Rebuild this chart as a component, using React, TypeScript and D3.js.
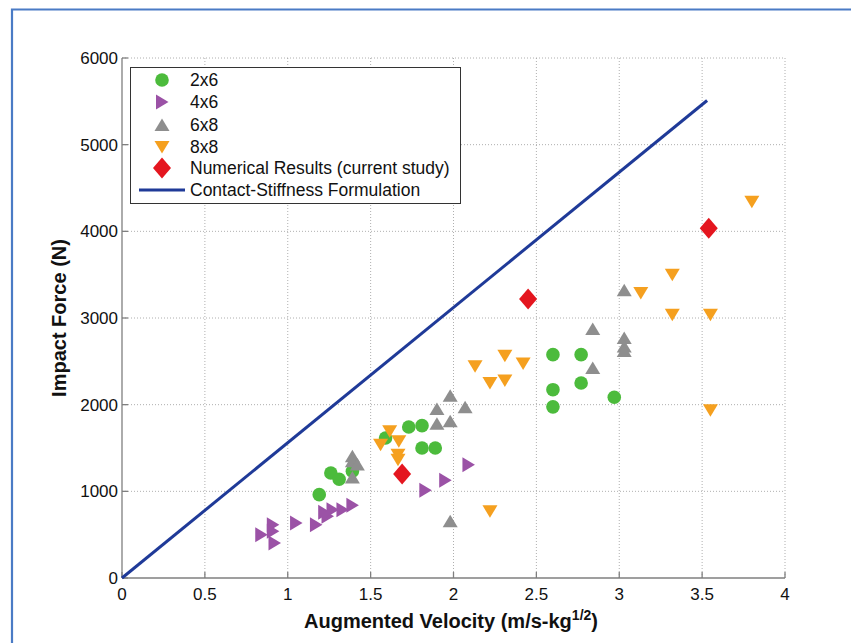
import React from 'react';
import * as d3 from 'd3';

// values: [augmented velocity, impact force]
const series2x6: [number, number][] = [
  [1.19, 962], [1.26, 1212], [1.31, 1140], [1.39, 1231], [1.59, 1615],
  [1.73, 1742], [1.81, 1758], [1.81, 1500], [1.89, 1500], [2.6, 2577],
  [2.77, 2577], [2.6, 2173], [2.77, 2250], [2.6, 1975], [2.97, 2085],
];
const series4x6: [number, number][] = [
  [0.84, 500], [0.91, 615], [0.91, 538], [0.92, 404], [1.05, 635],
  [1.17, 615], [1.22, 758], [1.24, 712], [1.27, 788], [1.33, 788],
  [1.39, 840], [1.83, 1012], [1.95, 1127], [2.09, 1308],
];
const series6x8: [number, number][] = [
  [1.39, 1404], [1.39, 1346], [1.42, 1310], [1.39, 1160], [1.9, 1781],
  [1.98, 1808], [1.9, 1950], [1.98, 2104], [2.07, 1969], [1.98, 654],
  [2.84, 2873], [2.84, 2423], [3.03, 3319], [3.03, 2769], [3.03, 2670],
  [3.03, 2620],
];
const series8x8: [number, number][] = [
  [1.56, 1538], [1.615, 1692], [1.67, 1577], [1.665, 1423], [1.665, 1365],
  [2.13, 2442], [2.31, 2565], [2.42, 2475], [2.22, 2250], [2.31, 2280],
  [2.22, 769], [3.13, 3288], [3.32, 3500], [3.32, 3038], [3.55, 3038],
  [3.55, 1935], [3.8, 4340],
];
const numerical: [number, number][] = [[1.69, 1200], [2.45, 3220], [3.54, 4035]];
const contactLine: [number, number][] = [[0, 0], [3.53, 5510]];

const xTicks = [0, 0.5, 1, 1.5, 2, 2.5, 3, 3.5, 4];
const yTicks = [0, 1000, 2000, 3000, 4000, 5000, 6000];
const legendLabels = ['2x6', '4x6', '6x8', '8x8', 'Numerical Results (current study)', 'Contact-Stiffness Formulation'];

const W = 851;
const H = 643;
const FONT = 'Arial, "Liberation Sans", Helvetica, sans-serif';

type Shape = 'circle' | 'right' | 'up' | 'down' | 'diamond';

const markerPath = (shape: Shape): string => {
  switch (shape) {
    case 'right': return 'M-6,-7.5L6.5,0L-6,7.5Z';
    case 'up': return 'M0,-6.5L7.5,6L-7.5,6Z';
    case 'down': return 'M-7.5,-6L7.5,-6L0,6.5Z';
    case 'diamond': return 'M0,-10.5L9,0L0,10.5L-9,0Z';
    default: return d3.symbol(d3.symbolCircle, 145)() || '';
  }
};

const groups: { data: [number, number][]; shape: Shape; color: string }[] = [
  { data: series2x6, shape: 'circle', color: '#4cbb3c' },
  { data: series4x6, shape: 'right', color: '#9b52a6' },
  { data: series6x8, shape: 'up', color: '#8e8e8e' },
  { data: series8x8, shape: 'down', color: '#f5a01f' },
  { data: numerical, shape: 'diamond', color: '#e4161f' },
];

const App = () => {
  const x = d3.scaleLinear().domain([0, 4]).range([122, 785]);
  const y = d3.scaleLinear().domain([0, 6000]).range([578, 58]);
  const line = d3.line<[number, number]>().x(d => x(d[0])).y(d => y(d[1]));

  const legRows = [80, 102, 125, 147, 168, 190];

  return (
    <div style={{ position: 'absolute', left: 0, top: 0 }}>
      <svg width={W} height={H} style={{ display: 'block', background: '#fff' }}>
        {/* figure frame */}
        <path d={`M12,${H + 2}L12,9.5L${W + 2},9.5`} fill="none" stroke="#4a7bc5" strokeWidth={2.2} />

        {/* grid */}
        <g stroke="#9a9a9a" strokeWidth={0.8} strokeDasharray="1,2">
          {xTicks.slice(1).map(t => (
            <line key={'gx' + t} x1={x(t)} x2={x(t)} y1={y(0)} y2={y(6000)} />
          ))}
          {yTicks.slice(1).map(t => (
            <line key={'gy' + t} x1={x(0)} x2={x(4)} y1={y(t)} y2={y(t)} />
          ))}
        </g>

        {/* axes */}
        <g stroke="#7f7f7f" strokeWidth={1.3} fill="none">
          <line x1={x(0)} x2={x(0)} y1={y(0)} y2={y(6000)} />
          <line x1={x(0)} x2={x(4)} y1={y(0)} y2={y(0)} />
          {xTicks.map(t => (
            <line key={'tx' + t} x1={x(t)} x2={x(t)} y1={y(0)} y2={y(0) - 6} />
          ))}
          {yTicks.map(t => (
            <line key={'ty' + t} x1={x(0)} x2={x(0) + 6} y1={y(t)} y2={y(t)} />
          ))}
        </g>
        <g fontFamily={FONT} fontSize={17} fill="#111">
          {xTicks.map(t => (
            <text key={'lx' + t} x={x(t)} y={600} textAnchor="middle">{d3.format('~g')(t)}</text>
          ))}
          {yTicks.map(t => (
            <text key={'ly' + t} x={118} y={y(t) + 6} textAnchor="end">{t}</text>
          ))}
        </g>

        {/* titles */}
        <text x={451} y={628} textAnchor="middle" fontFamily={FONT} fontSize={20} fontWeight="bold" fill="#111">
          Augmented Velocity (m/s-kg<tspan dy={-8} fontSize={14}>1/2</tspan><tspan dy={8}>)</tspan>
        </text>
        <text transform="translate(66,318) rotate(-90)" textAnchor="middle" fontFamily={FONT} fontSize={20} fontWeight="bold" fill="#111">
          Impact Force (N)
        </text>

        {/* contact stiffness line */}
        <path d={line(contactLine) || ''} fill="none" stroke="#1f3a98" strokeWidth={3} />

        {/* markers */}
        {groups.map((g, gi) => (
          <g key={'g' + gi} fill={g.color}>
            {g.data.map((d, i) => (
              <path key={i} d={markerPath(g.shape)} transform={`translate(${x(d[0])},${y(d[1])})`} />
            ))}
          </g>
        ))}

        {/* legend */}
        <rect x={130.5} y={67.5} width={330} height={136} fill="#fff" stroke="#333" strokeWidth={1} />
        {groups.map((g, gi) => (
          <path key={'lm' + gi} d={markerPath(g.shape)} fill={g.color}
            transform={`translate(162,${legRows[gi]})`} />
        ))}
        <line x1={139} x2={185} y1={legRows[5]} y2={legRows[5]} stroke="#1f3a98" strokeWidth={3} />
        <g fontFamily={FONT} fontSize={17.5} fill="#111">
          {legendLabels.map((l, i) => (
            <text key={'lt' + i} x={190} y={legRows[i] + 6}>{l}</text>
          ))}
        </g>
      </svg>
    </div>
  );
};

export default App;
